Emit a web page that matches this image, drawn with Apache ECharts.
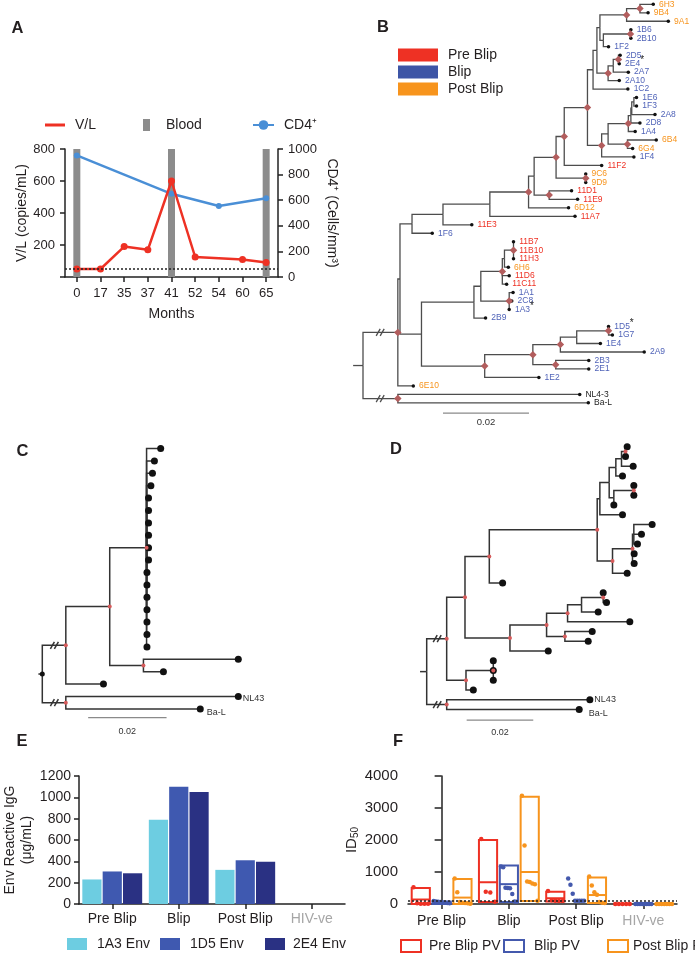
<!DOCTYPE html>
<html>
<head>
<meta charset="utf-8">
<script src="https://cdn.jsdelivr.net/npm/echarts/dist/echarts.min.js"></script>
<style>html,body{margin:0;padding:0;background:#fff}#main{width:695px;height:955px}</style>
</head>
<body>
<div id="main"></div>
<script>
const FONT = 'Liberation Sans, Arial, Helvetica, sans-serif';
const RED = '#ee3124', BLUE = '#4459ad', ORANGE = '#f7941d', INK = '#231f20';

// ---- A: viral load / CD4 over time
const months = ['0', '17', '35', '37', '41', '52', '54', '60', '65'];
const vl = [50, 50, 190, 170, 600, 125, null, 110, 90];
const cd4 = [950, null, null, null, 650, null, 555, null, 615];
const bloodMonths = ['0', '41', '65'];
const vlMax = 800, vlLimit = 50;

// ---- B/C/D: trees as [node, parent, branch length (x0.001 subs/site)], children listed top to bottom
const treeB = [
  ['I', 'root', 8.1], ['O', 'root', 8.1],
  ['X', 'I', 0.5], ['6E10', 'I', 3.6],
  ['P', 'X', 2.8], ['J', 'X', 5.0],
  ['Q', 'P', 7.2], ['1F6', 'P', 4.7],
  ['R', 'Q', 10.9], ['11E3', 'Q', 6.7],
  ['Na', 'R', 9.0], ['11A7', 'R', 19.8],
  ['W', 'Na', 1.3], ['6D12', 'Na', 9.3],
  ['Nc', 'W', 5.1], ['DE', 'W', 3.5],
  ['Nd', 'Nc', 1.9], ['CD', 'Nc', 6.9],
  ['Ne', 'Nd', 5.4], ['11F2', 'Nd', 8.7],
  ['G', 'Ne', 1.3], ['Nf', 'Ne', 3.3],
  ['H', 'G', 0.9], ['1C2', 'G', 8.1],
  ['J2', 'H', 0.7], ['K2', 'H', 2.6],
  ['L2', 'J2', 6.2], ['I2', 'J2', 0.8],
  ['M2', 'L2', 3.1], ['9A1', 'L2', 9.7],
  ['6H3', 'M2', 3.1], ['9B4', 'M2', 1.9],
  ['N2', 'I2', 6.3], ['1F2', 'I2', 1.2],
  ['1B6', 'N2', 0.1], ['2B10', 'N2', 0.1],
  ['O2', 'K2', 1.2], ['2A10', 'K2', 2.6],
  ['P2', 'O2', 1.2], ['2A7', 'O2', 3.5],
  ['2D5', 'P2', 0.4], ['2E4*', 'P2', 0.2],
  ['S2', 'Nf', 1.5], ['1F4', 'Nf', 7.5],
  ['Q2', 'S2', 4.7], ['R2', 'S2', 4.5],
  ['Y2', 'Q2', 0.6], ['1A4', 'Q2', 1.6],
  ['Z2', 'Y2', 0.2], ['2D8', 'Y2', 2.1],
  ['T2', 'Z2', 0.5], ['2A8', 'Z2', 5.4],
  ['1E6', 'T2', 0.6], ['1F3', 'T2', 0.6],
  ['6B4', 'R2', 6.7], ['6G4', 'R2', 1.2],
  ['9C6', 'CD', 0], ['9D9', 'CD', 0],
  ['11D1', 'DE', 5.2], ['11E9', 'DE', 6.6],
  ['K', 'J', 12.2], ['L', 'J', 14.7],
  ['K1', 'K', 1.6], ['2B9', 'K', 2.7],
  ['K2b', 'K1', 5.0], ['K3', 'K1', 6.6],
  ['K5', 'K2b', 0.5], ['11D6', 'K2b', 1.6], ['11C11', 'K2b', 1.0],
  ['K4', 'K5', 2.1], ['6H6', 'K5', 0.9],
  ['11B7', 'K4', 0], ['11B10', 'K4', 0], ['11H3', 'K4', 0],
  ['1A1', 'K3', 0.9], ['2C8', 'K3', 0.6], ['1A3*', 'K3', 0],
  ['L1', 'L', 11.2], ['1E2', 'L', 12.6],
  ['L2b', 'L1', 6.4], ['L3', 'L1', 5.3],
  ['L4', 'L2b', 3.8], ['2A9', 'L2b', 19.5],
  ['L5', 'L4', 7.4], ['1E4', 'L4', 5.5],
  ['1D5*', 'L5', 0], ['1G7', 'L5', 0.9],
  ['2B3', 'L3', 7.7], ['2E1', 'L3', 7.7],
  ['NL4-3', 'O', 42.3], ['Ba-L', 'O', 44.3]
];
const supportedB = ['I', 'O', 'Na', 'Nc', 'DE', 'Nd', 'CD', 'Ne', 'L2', 'M2', 'N2', 'K2', 'P2', 'Nf', 'Q2', 'R2',
  'K2b', 'K4', 'K3', 'L', 'L1', 'L3', 'L2b', 'L5'];
const preBlipClones = ['11F2', '11D1', '11E9', '11A7', '11E3', '11B7', '11B10', '11H3', '11D6', '11C11'];
const postBlipClones = ['6H3', '9B4', '9A1', '6B4', '6G4', '9C6', '9D9', '6D12', '6H6', '6E10'];
const refStrains = ['NL4-3', 'Ba-L', 'NL43'];

const cColumn = [3.6, 2.0, 1.5, 1.1, 0.5, 0.5, 0.5, 0.5, 0.5, 0.5, 0.1, 0.1, 0.1, 0.1, 0.1, 0.1, 0.1];
const treeC = [
  ['Ic', 'root', 6.0], ['Oc', 'root', 6.0],
  ['Ac', 'Ic', 11.2], ['c20', 'Ic', 9.6],
  ['Bc', 'Ac', 9.4], ['Cc', 'Ac', 8.6],
  ...cColumn.map((l, i) => ['c' + (i + 1), 'Bc', l]),
  ['c18', 'Cc', 24.2], ['c19', 'Cc', 5.1],
  ['NL43', 'Oc', 44.0], ['Ba-L', 'Oc', 34.3]
];
const supportedC = ['Ic', 'Oc', 'Ac', 'Bc', 'Cc'];

const treeD = [
  ['Id', 'root', 6.0], ['Od', 'root', 6.0],
  ['n14', 'Id', 5.5], ['n22', 'Id', 5.8],
  ['n13', 'n14', 7.3], ['n16', 'n14', 13.5],
  ['n8', 'n13', 32.4], ['d14', 'n13', 4.0],
  ['n7', 'n8', 0.8], ['n9', 'n8', 4.6],
  ['n6', 'n7', 2.8], ['d7', 'n7', 6.8],
  ['n3', 'n6', 2.0], ['n5', 'n6', 1.4],
  ['n2', 'n3', 1.7], ['d3', 'n3', 2.0],
  ['n1', 'n2', 1.2], ['d2', 'n2', 3.5],
  ['d0', 'n1', 0.5], ['d1', 'n1', 0],
  ['n4', 'n5', 6.0], ['d6', 'n5', 0],
  ['d4', 'n4', 0], ['d5', 'n4', 0],
  ['n10', 'n9', 6.0], ['d13', 'n9', 4.4],
  ['n11', 'n10', 0.4], ['d11', 'n10', 0.5], ['d12', 'n10', 0.5],
  ['d8', 'n11', 5.5], ['d9', 'n11', 2.3], ['d10', 'n11', 1.1],
  ['n17', 'n16', 11.0], ['d21', 'n16', 11.5],
  ['n19', 'n17', 6.3], ['n18', 'n17', 5.5],
  ['n20', 'n19', 4.2], ['d18', 'n19', 18.7],
  ['n21', 'n20', 6.5], ['d17', 'n20', 5.0],
  ['d15', 'n21', 0], ['d16', 'n21', 1.0],
  ['d19', 'n18', 8.2], ['d20', 'n18', 7.0],
  ['n23', 'n22', 8.2], ['d25', 'n22', 2.2],
  ['d22', 'n23', 0], ['d23', 'n23', 0], ['d24', 'n23', 0],
  ['NL43', 'Od', 43.0], ['Ba-L', 'Od', 39.8]
];
const supportedD = ['Id', 'Od', 'n1', 'n4', 'n8', 'n9', 'n10', 'n13', 'n14', 'n16', 'n17', 'n18', 'n19', 'n21', 'n22', 'n23'];

// ---- E: Env reactive IgG
const envCats = ['Pre Blip', 'Blip', 'Post Blip', 'HIV-ve'];
const env1A3 = [230, 790, 320, 0];
const env1D5 = [305, 1100, 410, 0];
const env2E4 = [288, 1050, 395, 0];

// ---- F: ID50, box = [min, max, mean], dots per group
const preBox = [[0, 500, 140], [60, 2000, 680], [80, 380, 180], null];
const blipBox = [[0, 80, 40], [60, 1200, 620], null, null];
const postBox = [[0, 780, 200], [90, 3350, 1000], [30, 830, 280], null];
const preDots = [[520, 20, 10, 10, 10], [2030, 380, 360, 70], [410, 120, 100, 90, 90], [0, 0, 0, 0, 0]];
const blipDots = [[90, 80, 70, 60, 50, 40, 30, 20], [1170, 1150, 510, 500, 490, 310, 80, 70],
  [800, 600, 320, 100, 100, 100, 100, 100], [0, 0, 0, 0, 0, 0, 0, 0]];
const postDots = [[800, 370, 60, 40, 30, 20, 10], [3380, 1830, 700, 690, 640, 620, 100],
  [860, 580, 370, 290, 60, 40, 30], [0, 0, 0, 0, 0, 0, 0]];
const id50Limit = 100;

// ---------------------------------------------------------------
function layoutTree(edges) {
  const kids = {}, len = {};
  edges.forEach(([c, p, l]) => { (kids[p] = kids[p] || []).push(c); len[c] = l; });
  const pos = {};
  let leaf = 0;
  (function walk(n, x) {
    const ch = kids[n];
    if (!ch) { pos[n] = [x, leaf++]; return; }
    ch.forEach(c => walk(c, x + len[c]));
    pos[n] = [x, (pos[ch[0]][1] + pos[ch[ch.length - 1]][1]) / 2];
  })('root', 0);
  return { kids, pos };
}

function treeSeries(edges, o) {
  const T = layoutTree(edges);
  const ry = T.pos.root[1];
  const ax = { xAxisIndex: o.xi, yAxisIndex: o.yi };
  const br = edges.map(([c, p]) => [T.pos[p][0], T.pos[p][1], T.pos[c][0], T.pos[c][1], o.broken.includes(c) ? 1 : 0]);
  br.push([-o.stub, ry, 0, ry, 0]);
  const st = { stroke: o.lineColor, lineWidth: o.lineWidth, fill: 'none' };
  const out = [];
  out.push(Object.assign({
    type: 'custom', silent: true, clip: false, z: 2, encode: { x: [0, 2], y: [1, 3] }, data: br,
    renderItem: (params, api) => {
      const a = api.coord([api.value(0), api.value(1)]);
      const b = api.coord([api.value(0), api.value(3)]);
      const c = api.coord([api.value(2), api.value(3)]);
      const kids = [{ type: 'polyline', shape: { points: [a, b, c] }, style: st }];
      if (api.value(4)) {
        const mx = b[0] + (c[0] - b[0]) * 0.45, y = c[1];
        for (let k = 0; k < 2; k++) {
          kids.push({ type: 'line', shape: { x1: mx + k * 4 - 2.5, y1: y + 3.5, x2: mx + k * 4 + 1.5, y2: y - 3.5 }, style: st });
        }
      }
      return { type: 'group', children: kids };
    }
  }, ax));
  const leaves = edges.map(e => e[0]).filter(n => !T.kids[n]);
  out.push(Object.assign({
    type: 'scatter', silent: true, clip: false, z: 4, symbolSize: o.leafSize,
    itemStyle: { color: '#111', opacity: 1 },
    label: {
      show: false, position: 'right', distance: o.labelDist, fontSize: o.fontSize, fontFamily: FONT,
      rich: { s: { color: '#222', fontSize: o.fontSize + 1.5, verticalAlign: 'top', padding: [-4, 0, 0, 0] } }
    },
    data: leaves.map(n => {
      const col = o.labelColor(n);
      const item = { value: T.pos[n] };
      if (col) {
        item.label = {
          show: true, color: col, offset: (o.labelOffset && o.labelOffset[n]) || [0, 0],
          formatter: n.endsWith('*') ? n.slice(0, -1) + '{s|*}' : n
        };
      }
      return item;
    })
  }, ax));
  out.push(Object.assign({
    type: 'scatter', silent: true, clip: false, z: 5, symbol: o.nodeSymbol, symbolSize: o.nodeSize,
    itemStyle: { color: o.nodeColor, opacity: 1 }, data: o.nodes.map(n => T.pos[n])
  }, ax));
  if (o.rootDot) {
    out.push(Object.assign({
      type: 'scatter', silent: true, clip: false, z: 5, symbolSize: 5, itemStyle: { color: '#111', opacity: 1 }, data: [[0, ry]]
    }, ax));
  }
  out.push(Object.assign({
    type: 'custom', silent: true, clip: false, z: 2, data: [o.bar],
    renderItem: (params, api) => {
      const a = api.coord([api.value(0), api.value(2)]);
      const b = api.coord([api.value(1), api.value(2)]);
      return {
        type: 'group', children: [
          { type: 'line', shape: { x1: a[0], y1: a[1], x2: b[0], y2: b[1] }, style: { stroke: '#8a8a8a', lineWidth: 1.2 } },
          { type: 'text', x: (a[0] + b[0]) / 2, y: a[1] + o.barTextDy,
            style: { text: '0.02', fill: '#333', fontSize: o.barFont, fontFamily: FONT, align: 'center', verticalAlign: 'middle' } }
        ]
      };
    }
  }, ax));
  return out;
}

function treeGrid(x0, sx, xmin, xmax, y0, sy, ymin, ymax, gi) {
  return {
    grid: { left: x0 + xmin * sx, top: y0 + ymin * sy, width: (xmax - xmin) * sx, height: (ymax - ymin) * sy, outerBoundsMode: 'none' },
    x: { type: 'value', gridIndex: gi, min: xmin, max: xmax, show: false },
    y: { type: 'value', gridIndex: gi, min: ymin, max: ymax, inverse: true, show: false }
  };
}

function cloneColor(n) {
  const k = n.replace('*', '');
  if (refStrains.includes(k)) return '#222';
  if (preBlipClones.includes(k)) return RED;
  if (postBlipClones.includes(k)) return ORANGE;
  return '#5063b8';
}

const gB = treeGrid(363, 4.3, -3, 77, 4.3, 8.48, -0.5, 50, 1);
const gC = treeGrid(42.3, 3.92, -2, 75, 448.5, 12.4, -0.5, 23.5, 2);
const gD = treeGrid(426.7, 3.33, -3, 79, 446.7, 9.73, -0.5, 30, 3);

const axisLine = { show: true, lineStyle: { color: '#222', width: 1.5 } };
const axisTick = { show: true, length: 5, lineStyle: { color: '#222', width: 1.5 } };
const lbl = (fs, m) => ({ fontSize: fs, color: INK, margin: m, fontFamily: FONT, formatter: v => String(v) });
const catLbl = (fs, m) => ({ fontSize: fs, color: INK, margin: m, fontFamily: FONT, interval: 0 });

// F helpers
const fOff = [-0.31, 0, 0.31], fHw = 0.135;
function boxData(boxes, k) {
  return boxes.map((b, g) => b ? [g + fOff[k], b[0], b[1], b[2]] : null).filter(Boolean);
}
function dotData(dots, k) {
  const out = [];
  dots.forEach((arr, g) => arr.forEach((v, i) => {
    out.push([g + fOff[k] - fHw + (i + 0.5) * (2 * fHw / arr.length), v]);
  }));
  return out;
}
function boxSeries(name, boxes, k, color) {
  return {
    name, type: 'custom', xAxisIndex: 6, yAxisIndex: 6, clip: false, silent: true, z: 3,
    itemStyle: { color }, encode: { x: 0, y: [1, 2] }, data: boxData(boxes, k),
    renderItem: (params, api) => {
      const x = api.value(0);
      const a = api.coord([x - fHw, api.value(2)]);
      const b = api.coord([x + fHw, api.value(1)]);
      const m1 = api.coord([x - fHw, api.value(3)]);
      const m2 = api.coord([x + fHw, api.value(3)]);
      const st = { stroke: color, lineWidth: 2, fill: 'none' };
      return {
        type: 'group', children: [
          { type: 'rect', shape: { x: a[0], y: a[1], width: b[0] - a[0], height: b[1] - a[1] }, style: st },
          { type: 'line', shape: { x1: m1[0], y1: m1[1], x2: m2[0], y2: m2[1] }, style: st }
        ]
      };
    }
  };
}
function dotSeries(name, dots, k, color, extra) {
  return Object.assign({
    name, type: 'scatter', xAxisIndex: 6, yAxisIndex: 6, clip: false, silent: true, z: 4,
    symbolSize: 4.5, itemStyle: { color, opacity: 1 }, data: dotData(dots, k)
  }, extra || {});
}

const legText = pad => ({ fontSize: 14, color: INK, fontFamily: FONT, padding: [0, 0, 0, pad] });
const single = (left, top, data, w, h, pad) => ({
  left, top, data, itemWidth: w, itemHeight: h, selectedMode: false, padding: 0, textStyle: legText(pad)
});

const option = {
  animation: false,
  textStyle: { fontFamily: FONT },
  title: [['A', 11.5, 20], ['B', 377, 19], ['C', 16.5, 442.5], ['D', 390, 441], ['E', 16.5, 732.5], ['F', 393, 733]].map(t => ({
    text: t[0], left: t[1], top: t[2], padding: 0,
    textStyle: { fontSize: 16.5, fontWeight: 'bold', color: INK, fontFamily: FONT }
  })),
  legend: [
    single(45, 118, [{ name: 'V/L', icon: 'rect' }], 20, 3, 5),
    single(143, 118, [{ name: 'Blood', icon: 'rect' }], 7, 12, 11),
    single(252, 118, ['CD4⁺'], 21, 12, 5),
    Object.assign(single(398, 48, ['Pre Blip', 'Blip', 'Post Blip'].map(n => ({ name: n, icon: 'rect' })), 40, 13, 5),
      { orient: 'vertical', itemGap: 3 }),
    single(67, 937, [{ name: '1A3 Env', icon: 'rect' }], 20, 12, 5),
    single(160, 937, [{ name: '1D5 Env', icon: 'rect' }], 20, 12, 5),
    single(265, 937, [{ name: '2E4 Env', icon: 'rect' }], 20, 12, 3),
    single(400, 939, [{ name: 'Pre Blip PV', icon: 'rect', itemStyle: { color: '#fff', borderColor: RED, borderWidth: 2 } }], 20, 12, 3),
    single(503, 939, [{ name: 'Blip PV', icon: 'rect', itemStyle: { color: '#fff', borderColor: BLUE, borderWidth: 2 } }], 20, 12, 5),
    single(607, 939, [{ name: 'Post Blip PV', icon: 'rect', itemStyle: { color: '#fff', borderColor: ORANGE, borderWidth: 2 } }], 20, 12, 0)
  ],
  grid: [
    { left: 65, top: 149, width: 213, height: 128, outerBoundsMode: 'none' },
    gB.grid, gC.grid, gD.grid,
    { left: 79, top: 776, width: 266, height: 128, outerBoundsMode: 'none' },
    { left: 408, top: 776, width: 269, height: 128, outerBoundsMode: 'none' }
  ],
  xAxis: [
    {
      type: 'category', gridIndex: 0, data: months, boundaryGap: true,
      axisLine, axisTick: Object.assign({ alignWithLabel: true }, axisTick), axisLabel: catLbl(13, 10),
      name: 'Months', nameLocation: 'middle', nameGap: 30, nameTextStyle: { fontSize: 14, color: INK }
    },
    gB.x, gC.x, gD.x,
    {
      type: 'category', gridIndex: 4, data: envCats.map(c => c === 'HIV-ve' ? { value: c, textStyle: { color: '#a6a6a6' } } : c),
      axisLine, axisTick: Object.assign({ alignWithLabel: true }, axisTick), axisLabel: catLbl(14, 8)
    },
    {
      type: 'category', gridIndex: 5, data: envCats.map(c => c === 'HIV-ve' ? { value: c, textStyle: { color: '#a6a6a6' } } : c),
      axisLine, axisTick: Object.assign({ alignWithLabel: true }, axisTick), axisLabel: catLbl(14, 10)
    },
    { type: 'value', gridIndex: 5, min: -0.5, max: 3.5, show: false }
  ],
  yAxis: [
    {
      type: 'value', gridIndex: 0, min: 0, max: vlMax, interval: 200, splitLine: { show: false },
      axisLine, axisTick, axisLabel: Object.assign(lbl(13, 10), { formatter: v => v === 0 ? '' : String(v) }),
      name: 'V/L (copies/mL)', nameLocation: 'middle', nameRotate: 90, nameGap: 36,
      nameTextStyle: { fontSize: 14, color: INK }
    },
    {
      type: 'value', gridIndex: 0, position: 'right', min: 0, max: 1000, interval: 200, splitLine: { show: false },
      axisLine, axisTick, axisLabel: lbl(13, 10),
      name: 'CD4⁺ (Cells/mm³)', nameLocation: 'middle', nameRotate: -90, nameGap: 47,
      nameTextStyle: { fontSize: 14, color: INK }
    },
    gB.y, gC.y, gD.y,
    {
      type: 'value', gridIndex: 4, min: 0, max: 1200, interval: 200, splitLine: { show: false },
      axisLine, axisTick, axisLabel: lbl(14, 8),
      name: 'Env Reactive IgG\n(μg/mL)', nameLocation: 'middle', nameRotate: 90, nameGap: 43,
      nameTextStyle: { fontSize: 14, color: INK, lineHeight: 17 }
    },
    {
      type: 'value', gridIndex: 5, min: 0, max: 4000, interval: 1000, splitLine: { show: false },
      axisLine, axisTick: Object.assign({}, axisTick, { length: 7 }), axisLabel: lbl(15, 10),
      name: '{a|ID}{b|50}', nameLocation: 'middle', nameRotate: 90, nameGap: 46,
      nameTextStyle: { rich: { a: { fontSize: 15, color: INK }, b: { fontSize: 10, color: INK, verticalAlign: 'bottom', padding: [8, 0, 0, 0] } } }
    }
  ],
  series: [
    // A
    {
      name: 'Blood', type: 'bar', xAxisIndex: 0, yAxisIndex: 0, barWidth: 7, z: 1,
      itemStyle: { color: '#8c8c8c' }, data: months.map(m => bloodMonths.includes(m) ? vlMax : '-')
    },
    {
      name: 'V/L', type: 'line', xAxisIndex: 0, yAxisIndex: 0, data: vl, connectNulls: true, z: 4,
      symbol: 'circle', symbolSize: 7, lineStyle: { color: RED, width: 2.5 }, itemStyle: { color: RED },
      markLine: { silent: true, symbol: 'none', label: { show: false }, lineStyle: { color: '#222', type: [2, 2], width: 1.5 }, data: [{ yAxis: vlLimit }] }
    },
    {
      name: 'CD4⁺', type: 'line', xAxisIndex: 0, yAxisIndex: 1, data: cd4, connectNulls: true, z: 3,
      symbol: 'circle', symbolSize: 6, lineStyle: { color: '#4a8fd6', width: 2.5 }, itemStyle: { color: '#4a8fd6' }
    },
    // B legend entries
    { name: 'Pre Blip', type: 'scatter', xAxisIndex: 1, yAxisIndex: 2, data: [], itemStyle: { color: RED, opacity: 1 } },
    { name: 'Blip', type: 'scatter', xAxisIndex: 1, yAxisIndex: 2, data: [], itemStyle: { color: '#3d55a6', opacity: 1 } },
    { name: 'Post Blip', type: 'scatter', xAxisIndex: 1, yAxisIndex: 2, data: [], itemStyle: { color: ORANGE, opacity: 1 } },
    ...treeSeries(treeB, {
      xi: 1, yi: 2, stub: 2.3, broken: ['I', 'O'], nodes: supportedB, lineColor: '#4d4d4d', lineWidth: 1.3,
      leafSize: 3.5, nodeSymbol: 'diamond', nodeSize: 7.5, nodeColor: '#b25d5d', fontSize: 8.5, labelDist: 4,
      labelColor: cloneColor, bar: [18.6, 38.6, 48.2], barTextDy: 9, barFont: 9.5
    }),
    ...treeSeries(treeC, {
      xi: 2, yi: 3, stub: 1.0, broken: ['Ic', 'Oc'], nodes: supportedC, lineColor: '#333', lineWidth: 1.5,
      leafSize: 7, nodeSymbol: 'circle', nodeSize: 4, nodeColor: '#d65b5b', fontSize: 9, labelDist: 1, rootDot: true,
      labelColor: n => refStrains.includes(n) ? '#333' : null, labelOffset: { 'Ba-L': [2, 4], 'NL43': [0, 2] },
      bar: [11.7, 31.7, 21.7], barTextDy: 13.5, barFont: 9
    }),
    ...treeSeries(treeD, {
      xi: 3, yi: 4, stub: 2.0, broken: ['Id', 'Od'], nodes: supportedD, lineColor: '#333', lineWidth: 1.5,
      leafSize: 7, nodeSymbol: 'circle', nodeSize: 4, nodeColor: '#d65b5b', fontSize: 9, labelDist: 1,
      labelColor: n => refStrains.includes(n) ? '#333' : null, labelOffset: { 'Ba-L': [5, 4], 'NL43': [0, 0] },
      bar: [12.0, 32.0, 28.1], barTextDy: 12.5, barFont: 9
    }),
    // E
    { name: '1A3 Env', type: 'bar', xAxisIndex: 4, yAxisIndex: 5, data: env1A3, itemStyle: { color: '#6dcde1' }, barGap: '6%', barCategoryGap: '10%' },
    { name: '1D5 Env', type: 'bar', xAxisIndex: 4, yAxisIndex: 5, data: env1D5, itemStyle: { color: '#3f59b0' }, barGap: '6%', barCategoryGap: '10%' },
    { name: '2E4 Env', type: 'bar', xAxisIndex: 4, yAxisIndex: 5, data: env2E4, itemStyle: { color: '#2a3183' }, barGap: '6%', barCategoryGap: '10%' },
    // F
    boxSeries('Pre Blip PV', preBox, 0, RED),
    boxSeries('Blip PV', blipBox, 1, BLUE),
    boxSeries('Post Blip PV', postBox, 2, ORANGE),
    dotSeries('Pre Blip PV', preDots, 0, RED, {
      markLine: { silent: true, symbol: 'none', label: { show: false }, lineStyle: { color: '#222', type: [2, 2], width: 1.5 }, data: [{ yAxis: id50Limit }] }
    }),
    dotSeries('Blip PV', blipDots, 1, BLUE),
    dotSeries('Post Blip PV', postDots, 2, ORANGE)
  ]
};

const chart = echarts.init(document.getElementById('main'), null, { renderer: 'canvas' });
chart.setOption(option);
</script>
</body>
</html>
